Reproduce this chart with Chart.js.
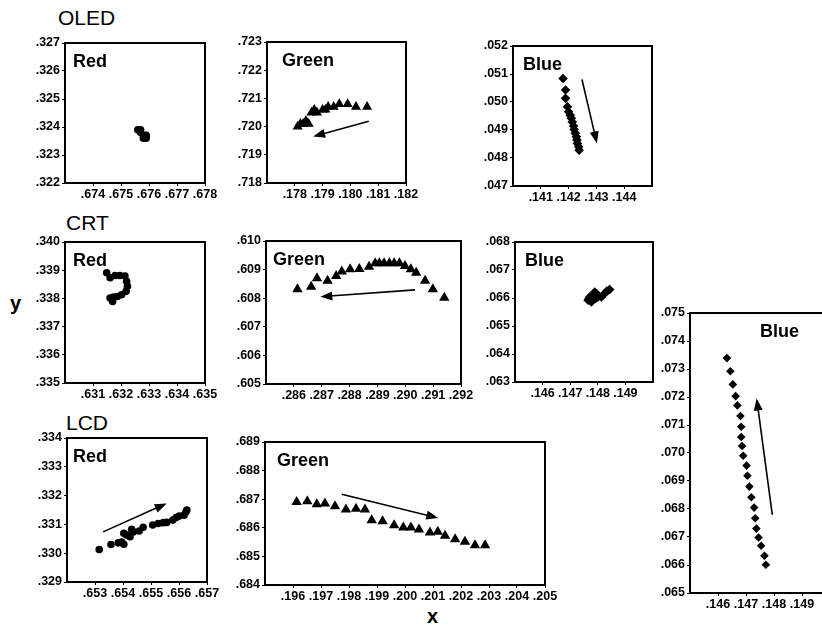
<!DOCTYPE html>
<html>
<head>
<meta charset="utf-8">
<script src="https://cdn.jsdelivr.net/npm/chart.js@4.4.1/dist/chart.umd.min.js"></script>
<style>
  body { margin: 0; background: #fff; width: 822px; height: 627px; overflow: hidden; position: relative;
         font-family: "Liberation Sans", Arial, sans-serif; }
  canvas { position: absolute; }
  .lbl { position: absolute; color: #000; line-height: 1; white-space: nowrap; }
</style>
</head>
<body>
<div class="lbl" style="left:58px;top:7px;font-size:21px">OLED</div>
<div class="lbl" style="left:66px;top:212px;font-size:21px">CRT</div>
<div class="lbl" style="left:66px;top:412px;font-size:21px">LCD</div>
<div class="lbl" style="left:10px;top:293px;font-size:20px;font-weight:bold">y</div>
<div class="lbl" style="left:427px;top:606px;font-size:20px;font-weight:bold">x</div>

<script>
// ---- OLED ----
const oledRedX = [.6756, .6757, .6757, .6758, .6759, .6758, .6759];
const oledRedY = [.3239, .3238, .3239, .3237, .3237, .3236, .3236];

const oledGreenX = [.1781, .1782, .1783, .1784, .1785, .1786, .1787, .1788, .1790, .1791, .1792, .1794, .1796, .1799, .1802, .1806];
const oledGreenY = [.7200, .7201, .7201, .7202, .7201, .7205, .7206, .7205, .7206, .7206, .7207, .7207, .7208, .7208, .7207, .7207];

const oledBlueX = [.14180, .14189, .14189, .14196, .14200, .14206, .14210, .14213, .14218, .14220, .14224, .14228, .14230, .14232, .14236, .14238];
const oledBlueY = [.05084, .05043, .05013, .04983, .04965, .04953, .04942, .04929, .04914, .04902, .04888, .04876, .04864, .04852, .04840, .04828];

// ---- CRT ----
const crtRedX = [.63149, .63161, .63179, .63196, .63214, .63220, .63223, .63218, .63202, .63187, .63173, .63161, .63170];
const crtRedY = [.33891, .33873, .33881, .33881, .33879, .33861, .33843, .33825, .33813, .33807, .33805, .33801, .33789];

const crtGreenX = [.28613, .28662, .28683, .28721, .28752, .28772, .28802, .28835, .28870, .28892, .28907, .28924, .28943, .28960, .28979, .28999, .29020, .29039, .29071, .29099, .29140];
const crtGreenY = [.60831, .60840, .60870, .60861, .60878, .60893, .60901, .60902, .60910, .60922, .60922, .60922, .60922, .60922, .60922, .60913, .60901, .60889, .60861, .60831, .60802];

const crtBlueX = [.14765, .14771, .14777, .14783, .14789, .14792, .14801, .14813, .14825, .14833, .14843, .14795, .14768];
const crtBlueY = [.06592, .06604, .06586, .06610, .06621, .06598, .06604, .06604, .06616, .06625, .06630, .06616, .06598];

// ---- LCD ----
const lcdRedX = [.65315, .65357, .65383, .65395, .65403, .65403, .65413, .65425, .65431, .65437, .65458, .65472, .65506, .65526, .65544, .65556, .65578, .65590, .65601, .65618, .65625, .65628];
const lcdRedY = [.33013, .33030, .33036, .33039, .33031, .33069, .33063, .33057, .33083, .33074, .33077, .33090, .33098, .33103, .33106, .33107, .33115, .33124, .33129, .33132, .33144, .33150];

const lcdGreenX = [.19613, .19651, .19685, .19714, .19750, .19789, .19825, .19857, .19881, .19920, .19961, .19994, .20021, .20050, .20089, .20117, .20143, .20179, .20214, .20250, .20286];
const lcdGreenY = [.68690, .68693, .68682, .68685, .68675, .68664, .68667, .68664, .68626, .68623, .68609, .68601, .68601, .68594, .68584, .68586, .68572, .68560, .68551, .68539, .68539];

const lcdBlueX = [.14632, .14644, .14653, .14663, .14669, .14680, .14683, .14683, .14686, .14690, .14702, .14705, .14712, .14719, .14729, .14733, .14737, .14745, .14754, .14766, .14771];
const lcdBlueY = [.07339, .07292, .07245, .07203, .07170, .07132, .07094, .07057, .07025, .06990, .06955, .06919, .06880, .06842, .06805, .06767, .06730, .06698, .06669, .06633, .06601];

// axis ranges [xMin, xMax, yMin, yMax] and labelled ticks
const oledRedRange = [.673, .678, .322, .327];
const oledRedXTicks = [.674, .675, .676, .677, .678];
const oledRedYTicks = [.322, .323, .324, .325, .326, .327];
const oledGreenRange = [.177, .182, .718, .723];
const oledGreenXTicks = [.178, .179, .180, .181, .182];
const oledGreenYTicks = [.718, .719, .720, .721, .722, .723];
const oledBlueRange = [.140, .145, .047, .052];
const oledBlueXTicks = [.141, .142, .143, .144];
const oledBlueYTicks = [.047, .048, .049, .050, .051, .052];
const crtRedRange = [.630, .635, .335, .340];
const crtRedXTicks = [.631, .632, .633, .634, .635];
const crtRedYTicks = [.335, .336, .337, .338, .339, .340];
const crtGreenRange = [.285, .292, .605, .610];
const crtGreenXTicks = [.286, .287, .288, .289, .290, .291, .292];
const crtGreenYTicks = [.605, .606, .607, .608, .609, .610];
const crtBlueRange = [.145, .150, .063, .068];
const crtBlueXTicks = [.146, .147, .148, .149];
const crtBlueYTicks = [.063, .064, .065, .066, .067, .068];
const lcdRedRange = [.652, .657, .329, .334];
const lcdRedXTicks = [.653, .654, .655, .656, .657];
const lcdRedYTicks = [.329, .330, .331, .332, .333, .334];
const lcdGreenRange = [.195, .205, .684, .689];
const lcdGreenXTicks = [.196, .197, .198, .199, .200, .201, .202, .203, .204, .205];
const lcdGreenYTicks = [.684, .685, .686, .687, .688, .689];
const lcdBlueRange = [.145, .150, .065, .075];
const lcdBlueXTicks = [.146, .147, .148, .149];
const lcdBlueYTicks = [.065, .066, .067, .068, .069, .070, .071, .072, .073, .074, .075];

// trend arrows [x1, y1, x2, y2] (head at the second point)
const oledGreenArrow = [.18066, .72019, .17866, .71965];
const oledBlueArrow = [.14248, .05081, .14302, .04852];
const crtGreenArrow = [.29035, .60829, .28695, .60805];
const lcdRedArrow = [.65329, .33074, .65556, .33173];
const lcdGreenArrow = [.19774, .68717, .20119, .68634];
const lcdBlueArrow = [.14794, .06779, .14738, .07195];

const FONT = '"Liberation Sans", Arial, sans-serif';

// plot box (left, top, width, height) on the page
const panels = [
    { box: [65, 43, 140, 140], xs: oledRedX, ys: oledRedY, range: oledRedRange, xt: oledRedXTicks, yt: oledRedYTicks, marker: 'circle', r: 3.8, title: 'Red', tdx: 8, arrow: null },
    { box: [267, 42, 139, 141], xs: oledGreenX, ys: oledGreenY, range: oledGreenRange, xt: oledGreenXTicks, yt: oledGreenYTicks, marker: 'triangle', r: 5.8, title: 'Green', tdx: 15, arrow: oledGreenArrow },
    { box: [513, 46, 139, 140], xs: oledBlueX, ys: oledBlueY, range: oledBlueRange, xt: oledBlueXTicks, yt: oledBlueYTicks, marker: 'rectRot', r: 4.8, title: 'Blue', tdx: 10, arrow: oledBlueArrow },
    { box: [65, 242, 140, 141], xs: crtRedX, ys: crtRedY, range: crtRedRange, xt: crtRedXTicks, yt: crtRedYTicks, marker: 'circle', r: 3.8, title: 'Red', tdx: 8, arrow: null },
    { box: [266, 241, 195, 143], xs: crtGreenX, ys: crtGreenY, range: crtGreenRange, xt: crtGreenXTicks, yt: crtGreenYTicks, marker: 'triangle', r: 6, title: 'Green', tdx: 7, arrow: crtGreenArrow },
    { box: [515, 242, 138, 140], xs: crtBlueX, ys: crtBlueY, range: crtBlueRange, xt: crtBlueXTicks, yt: crtBlueYTicks, marker: 'rectRot', r: 4.8, title: 'Blue', tdx: 10, arrow: null },
    { box: [67, 438, 140, 144], xs: lcdRedX, ys: lcdRedY, range: lcdRedRange, xt: lcdRedXTicks, yt: lcdRedYTicks, marker: 'circle', r: 3.8, title: 'Red', tdx: 6, arrow: lcdRedArrow },
    { box: [265, 442, 280, 143], xs: lcdGreenX, ys: lcdGreenY, range: lcdGreenRange, xt: lcdGreenXTicks, yt: lcdGreenYTicks, marker: 'triangle', r: 6, title: 'Green', tdx: 12, arrow: lcdGreenArrow },
    { box: [690, 313, 140, 280], xs: lcdBlueX, ys: lcdBlueY, range: lcdBlueRange, xt: lcdBlueXTicks, yt: lcdBlueYTicks, marker: 'rectRot', r: 4.3, title: 'Blue', tdx: 70, arrow: lcdBlueArrow }
];

const fmt = v => '.' + String(Math.round(v * 1000)).padStart(3, '0');

// box outline, panel title and arrow
const panelDeco = {
    id: 'panelDeco',
    afterDraw(chart, args, opts) {
        const { ctx, chartArea: a, scales } = chart;
        ctx.save();
        ctx.strokeStyle = '#000';
        ctx.lineWidth = 2;
        ctx.strokeRect(a.left, a.top, a.right - a.left, a.bottom - a.top);

        ctx.fillStyle = '#000';
        ctx.font = 'bold 18px ' + FONT;
        ctx.textBaseline = 'alphabetic';
        ctx.fillText(opts.title, a.left + opts.tdx, a.top + 24);

        if (opts.arrow) {
            const [x1, y1, x2, y2] = opts.arrow;
            const p1 = [scales.x.getPixelForValue(x1), scales.y.getPixelForValue(y1)];
            const p2 = [scales.x.getPixelForValue(x2), scales.y.getPixelForValue(y2)];
            const ang = Math.atan2(p2[1] - p1[1], p2[0] - p1[0]);
            const len = 12, w = 4.5;
            ctx.lineWidth = 1.6;
            ctx.beginPath();
            ctx.moveTo(p1[0], p1[1]);
            ctx.lineTo(p2[0] - Math.cos(ang) * len * 0.8, p2[1] - Math.sin(ang) * len * 0.8);
            ctx.stroke();
            ctx.beginPath();
            ctx.moveTo(p2[0], p2[1]);
            ctx.lineTo(p2[0] - Math.cos(ang) * len - Math.sin(ang) * w, p2[1] - Math.sin(ang) * len + Math.cos(ang) * w);
            ctx.lineTo(p2[0] - Math.cos(ang) * len + Math.sin(ang) * w, p2[1] - Math.sin(ang) * len - Math.cos(ang) * w);
            ctx.closePath();
            ctx.fill();
        }
        ctx.restore();
    }
};

const LEFT = 45, TOP = 12, RIGHT = 15, BOTTOM = 20;

panels.forEach(p => {
    const [bx, by, bw, bh] = p.box;
    const canvas = document.createElement('canvas');
    canvas.width = bw + LEFT + RIGHT;
    canvas.height = bh + TOP + BOTTOM;
    canvas.style.left = (bx - LEFT) + 'px';
    canvas.style.top = (by - TOP) + 'px';
    document.body.appendChild(canvas);

    const tickFont = { family: FONT, size: 12.5, weight: 'bold' };

    new Chart(canvas, {
        type: 'scatter',
        data: {
            datasets: [{
                data: p.xs.map((x, i) => ({ x: x, y: p.ys[i] })),
                pointStyle: p.marker,
                pointRadius: p.r,
                backgroundColor: '#000',
                borderColor: '#000',
                borderWidth: 0
            }]
        },
        options: {
            responsive: false,
            animation: false,
            layout: { padding: { top: TOP, right: RIGHT, left: 0, bottom: 0 } },
            plugins: {
                legend: { display: false },
                tooltip: { enabled: false },
                panelDeco: { title: p.title, tdx: p.tdx, arrow: p.arrow }
            },
            scales: {
                x: {
                    type: 'linear',
                    min: p.range[0],
                    max: p.range[1],
                    afterBuildTicks: s => { s.ticks = p.xt.map(v => ({ value: v })); },
                    afterFit: s => { s.height = BOTTOM; },
                    ticks: { autoSkip: false, maxRotation: 0, color: '#000', font: tickFont, padding: 1, callback: fmt },
                    grid: { drawOnChartArea: false, drawTicks: true, tickLength: 3, color: '#000' },
                    border: { display: false }
                },
                y: {
                    type: 'linear',
                    min: p.range[2],
                    max: p.range[3],
                    afterBuildTicks: s => { s.ticks = p.yt.map(v => ({ value: v })); },
                    afterFit: s => { s.width = LEFT; },
                    ticks: { autoSkip: false, color: '#000', font: tickFont, padding: 2, callback: fmt },
                    grid: { drawOnChartArea: false, drawTicks: true, tickLength: 3, color: '#000' },
                    border: { display: false }
                }
            }
        },
        plugins: [panelDeco]
    });
});
</script>
</body>
</html>
